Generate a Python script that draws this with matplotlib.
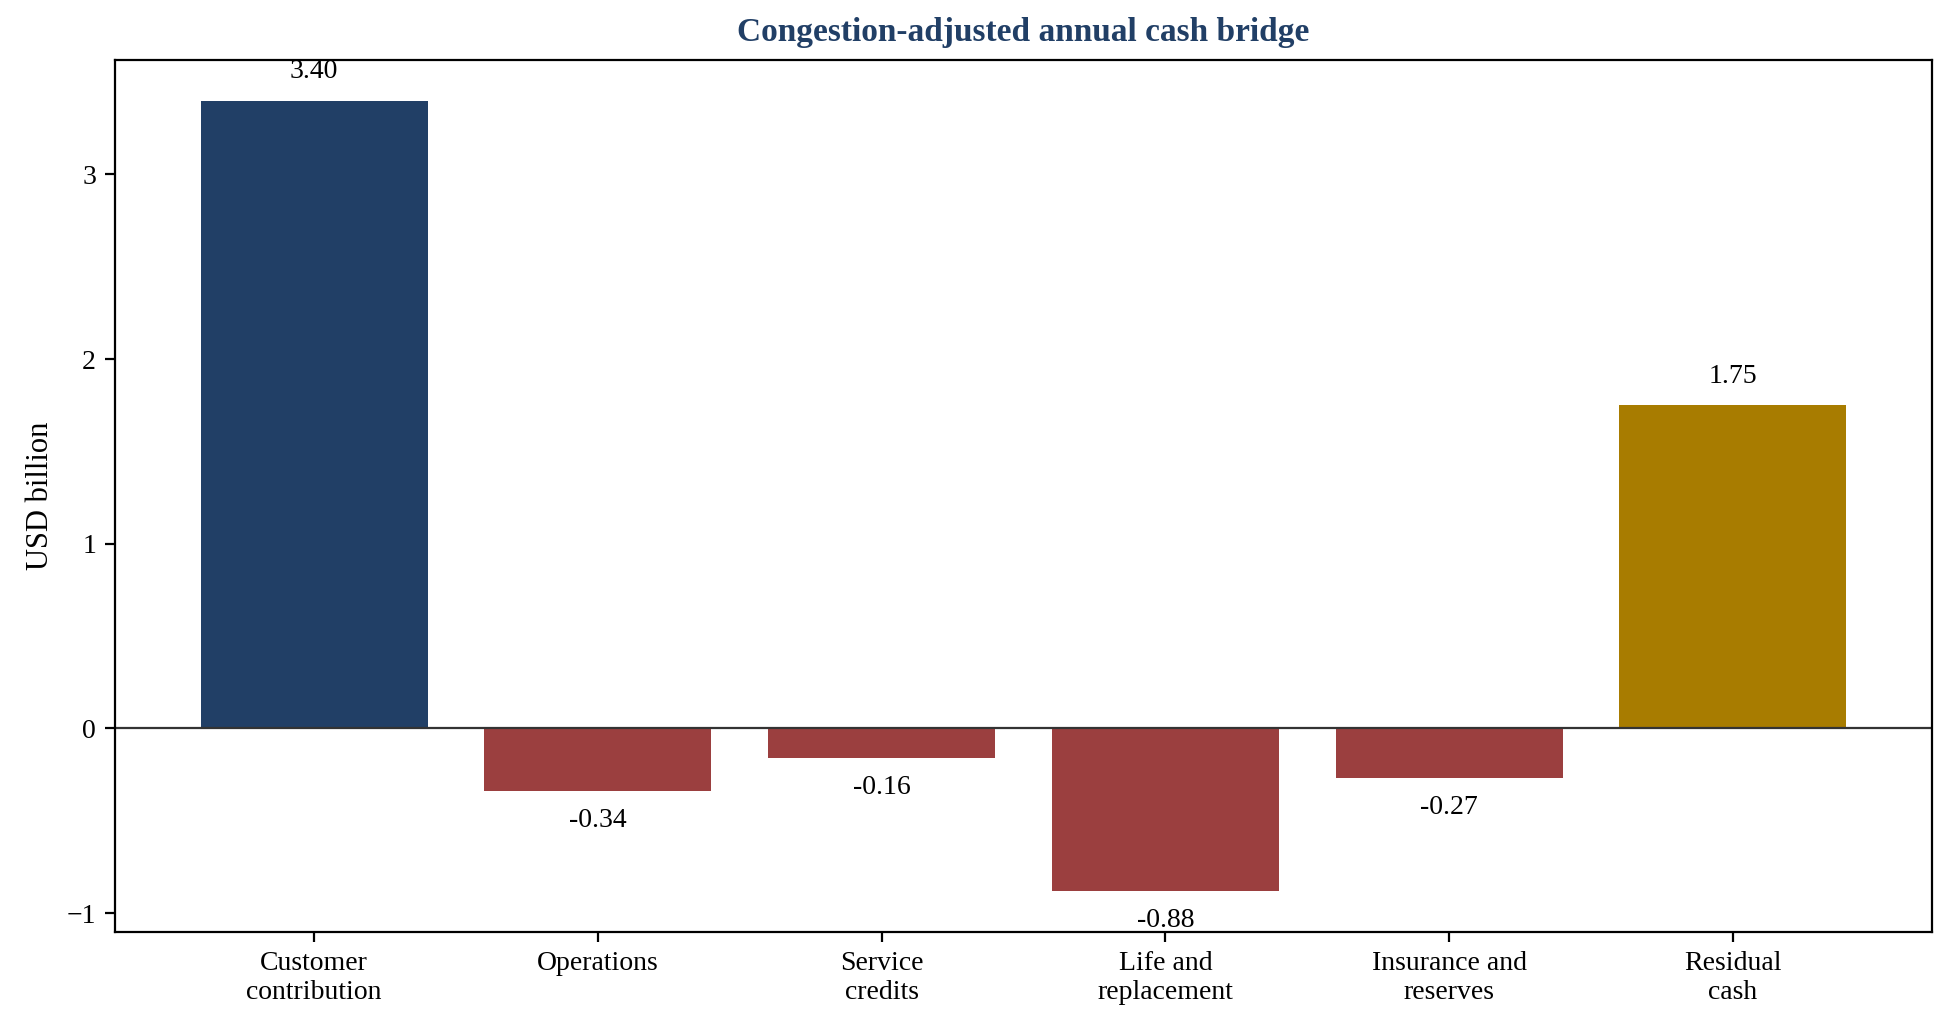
import matplotlib
matplotlib.use("Agg")
import matplotlib.pyplot as plt

categories = ["Customer\ncontribution", "Operations", "Service\ncredits", "Life and\nreplacement", "Insurance and\nreserves", "Residual\ncash"]
values = [3.40, -0.34, -0.16, -0.88, -0.27, 1.75]
labels = ["3.40", "-0.34", "-0.16", "-0.88", "-0.27", "1.75"]
colors = ["#213f66", "#9b3f3f", "#9b3f3f", "#9b3f3f", "#9b3f3f", "#a87c00"]

plt.rcParams['font.family'] = ['Liberation Serif', 'DejaVu Serif']
fig = plt.figure(figsize=(9.785, 5.17), dpi=200)
ax = fig.add_axes([0.059, 0.099, 0.928, 0.843])
x = range(len(categories))
ax.bar(x, values, color=colors, width=0.8)
ax.axhline(0, color="#333333", linewidth=0.8)
for i, (v, l) in enumerate(zip(values, labels)):
    if v >= 0:
        ax.annotate(l, (i, v), xytext=(0, 6), textcoords="offset points", ha="center", va="bottom", fontsize=10)
    else:
        ax.annotate(l, (i, v), xytext=(0, -6), textcoords="offset points", ha="center", va="top", fontsize=10)
ax.set_xticks(list(x))
ax.set_xticklabels(categories, fontsize=10)
ax.set_ylim(-1.1, 3.62)
ax.set_xlim(-0.7, 5.7)
ax.set_yticks([-1, 0, 1, 2, 3])
ax.tick_params(labelsize=10)
ax.set_ylabel("USD billion", fontsize=11)
ax.set_title("Congestion-adjusted annual cash bridge", fontsize=12, fontweight="bold", color="#213f66", pad=7)
fig.savefig("out.png", dpi=200)
